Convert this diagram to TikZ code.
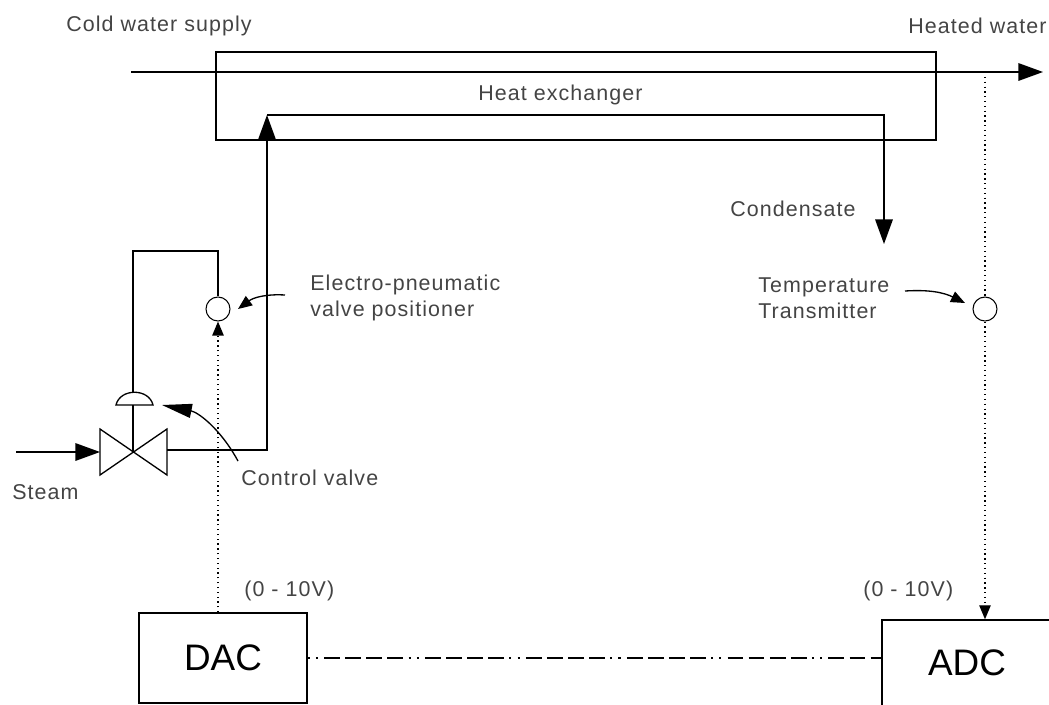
\documentclass[tikz,border=0pt]{standalone}
\usepackage{fontspec}
\setmainfont[LetterSpace=5]{Liberation Sans}
\newfontfamily\boxfont{Liberation Sans}
\usepackage{xcolor}
\usetikzlibrary{positioning,calc,arrows.meta}
\definecolor{labelc}{HTML}{444444}
\tikzset{
  pipe/.style={line width=0.75pt,black},
  bigtip/.style={-{Triangle[length=14pt,width=10pt]}},
  midtip/.style={-{Triangle[length=17pt,width=8pt]}},
  smalltip/.style={-{Triangle[length=8pt,width=6.5pt]}},
  signal/.style={line width=0.75pt,black,dotted},
  lbl/.style={font=\fontsize{12.2}{15}\selectfont,text=labelc,inner sep=0pt,anchor=west,align=left},
  sensor/.style={draw,circle,line width=0.6pt,minimum size=0.48cm,inner sep=0pt},
  conv/.style={draw,line width=0.8pt,font=\boxfont\fontsize{21}{24}\selectfont,inner sep=0pt}
}
\begin{document}
\begin{tikzpicture}[x=0.02cm,y=-0.02cm]
  \useasboundingbox (0,0) rectangle (1049,704);
  % exchanger and the two boxes
  \node[draw,pipe,minimum width=14.4cm,minimum height=1.76cm,inner sep=0pt] (exch) at (576,96) {};
  \node[conv,minimum width=3.36cm,minimum height=1.8cm] (dac) at (223,658) {DAC};
  \node[conv,minimum width=3.4cm,minimum height=1.72cm] (adc) at (967,663) {ADC};
  \node[sensor] (posn) at (218,309) {};
  \node[sensor] (trans) at (985,309) {};
  % labels
  \node[lbl] (cold) at (66,26) {Cold water supply};
  \node[lbl] (heated) at (908,26) {Heated water};
  \node[lbl] (hxlabel) at (478,95) {Heat exchanger};
  \node[lbl] (cond) at (730,209) {Condensate};
  \node[lbl] (epvp) at (310,298) {Electro-pneumatic\\valve positioner};
  \node[lbl] (ttlabel) at (758,298) {Temperature\\Transmitter};
  \node[lbl] (cvlabel) at (241,478) {Control valve};
  \node[lbl] (steam) at (12,492) {Steam};
  \node[lbl] (daclabel) at (244,591) {(0 - 10V)};
  \node[lbl] (adclabel) at (863,591) {(0 - 10V)};
  % points on the pipes
  \coordinate (wl) at (131,72);
  \coordinate (wr) at (1043,72);
  \coordinate (st) at (16,452);
  \coordinate (vl) at (100,452);
  \coordinate (vc) at (133,452);
  \coordinate (vr) at (167,450);
  \coordinate (up) at (267,450);
  \coordinate (hx) at (267,115);
  \coordinate (hxr) at (884,115);
  \coordinate (cd) at (884,244);
  \coordinate (dome) at (133,392);
  \coordinate (bend) at (133,251);
  % water, steam and condensate
  \draw[pipe,bigtip] (wl) -- (wr);
  \draw[pipe,bigtip] (st) -- (vl);
  \draw[pipe,bigtip] (vr) -- (up) -- (hx);
  \draw[pipe,bigtip] (hx) -- (hxr) -- (cd);
  % valve
  \draw[pipe] (100,429) -- (167,475) -- (167,429) -- (100,475) -- cycle;
  \draw[pipe] (116,405) .. controls (120,388) and (149,388) .. (153,405) -- cycle;
  \draw[pipe] (vc) -- (133,405);
  \draw[pipe] (dome) -- (bend) -| (posn.north);
  % signals
  \draw[signal] (trans |- wl) -- (trans.north);
  \draw[signal,smalltip] (trans.south) -- (trans |- adc.north);
  \draw[signal,smalltip] (posn |- dac.north) -- (posn.south);
  \draw[line width=0.8pt,dash pattern=on 1.2pt off 3.5pt on 1.2pt off 3.5pt on 9pt off 3pt on 9pt off 3pt on 9pt off 3pt on 9pt off 3pt] (dac.east) -- (adc.west |- dac.east);
  % leaders from the labels
  \coordinate (epa) at (238,309);
  \coordinate (tta) at (965,303);
  \coordinate (cva) at (162,405);
  \draw[pipe,smalltip] (285,295) to[bend right=20] (epa);
  \draw[pipe,smalltip] (905,291) to[bend left=15] (tta);
  \draw[pipe,midtip] (238,461) to[bend right=25] (cva);
\end{tikzpicture}
\end{document}
